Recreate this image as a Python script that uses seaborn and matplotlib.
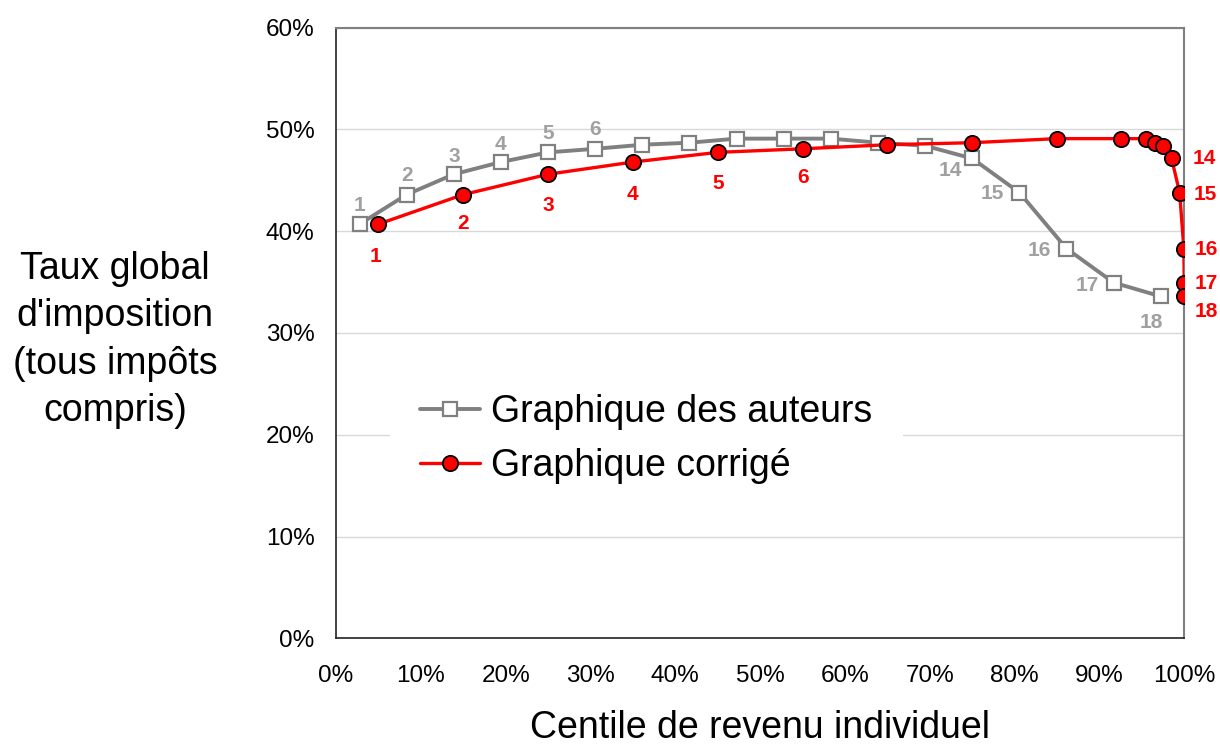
import matplotlib
matplotlib.use("Agg")
import matplotlib.pyplot as plt
import seaborn as sns
from matplotlib.ticker import PercentFormatter

# data (18 income groups)
groupes = list(range(1, 19))
centile_auteurs = [2.78, 8.33, 13.89, 19.44, 25.0, 30.56, 36.11, 41.67, 47.22,
                   52.78, 58.33, 63.89, 69.44, 75.0, 80.56, 86.11, 91.67, 97.22]
centile_corrige = [5, 15, 25, 35, 45, 55, 65, 75, 85,
                   92.5, 95.5, 96.5, 97.5, 98.5, 99.45, 99.95, 99.995, 99.9995]
taux_global = [40.7, 43.6, 45.6, 46.8, 47.75, 48.1, 48.5, 48.7, 49.1,
               49.1, 49.1, 48.7, 48.4, 47.15, 43.8, 38.3, 34.95, 33.6]
groupes_etiquetes = [1, 2, 3, 4, 5, 6, 14, 15, 16, 17, 18]

sns.set_style("white")
plt.rcParams["font.family"] = ["Liberation Sans", "DejaVu Sans"]
plt.rcParams["text.color"] = "black"

GRIS = "#808080"
GRIS_TXT = "#a0a0a0"
ROUGE = "#ff0000"

fig = plt.figure(figsize=(12.2, 7.47), dpi=100)
ax = fig.add_axes([336 / 1220, 1 - 638.3 / 747, 848.3 / 1220, 610.6 / 747])

sns.lineplot(x=centile_auteurs, y=taux_global, ax=ax, sort=False, errorbar=None,
             color=GRIS, linewidth=2.8, marker="s", markersize=10.5,
             markerfacecolor="white", markeredgecolor=GRIS, markeredgewidth=1.6,
             label="Graphique des auteurs", zorder=3)
sns.lineplot(x=centile_corrige, y=taux_global, ax=ax, sort=False, errorbar=None,
             color=ROUGE, linewidth=2.4, marker="o", markersize=11,
             markerfacecolor=ROUGE, markeredgecolor="black", markeredgewidth=1.3,
             label="Graphique corrigé", zorder=4)

# label offsets in pixels (dx, dy)
off_gris = {1: (0, 19), 2: (0, 19), 3: (0, 18), 4: (0, 18), 5: (0, 19), 6: (0, 19),
            14: (-22, -12), 15: (-27, -1), 16: (-27, -2), 17: (-26, -3), 18: (-9, -26)}
off_rouge = {1: (-3, -32), 2: (0, -29), 3: (0, -31), 4: (0, -32), 5: (0, -31), 6: (0, -29),
             14: (33, 0), 15: (26, -2), 16: (22, -1), 17: (22, -1), 18: (22, -15)}

for g in groupes_etiquetes:
    i = groupes.index(g)
    ax.annotate(str(g), (centile_auteurs[i], taux_global[i]), xytext=off_gris[g],
                textcoords="offset pixels", ha="center", va="center",
                fontsize=15, fontweight="bold", color=GRIS_TXT, zorder=5)
    ax.annotate(str(g), (centile_corrige[i], taux_global[i]), xytext=off_rouge[g],
                textcoords="offset pixels", ha="center", va="center",
                fontsize=15, fontweight="bold", color=ROUGE, zorder=5,
                annotation_clip=False)

ax.set_xlim(0, 100)
ax.set_ylim(0, 60)
ax.set_xticks(range(0, 101, 10))
ax.set_yticks(range(0, 61, 10))
ax.xaxis.set_major_formatter(PercentFormatter(decimals=0))
ax.yaxis.set_major_formatter(PercentFormatter(decimals=0))
ax.tick_params(axis="both", direction="out", length=6.3, width=1, color="#333333",
               labelsize=17.5, labelcolor="black")
ax.tick_params(axis="x", pad=13)
ax.tick_params(axis="y", pad=9)
ax.grid(axis="y", color="#d9d9d9", linewidth=1)
ax.set_axisbelow(True)
for s in ["left", "bottom"]:
    ax.spines[s].set_color("#222222")
    ax.spines[s].set_linewidth(1.2)
for s in ["top", "right"]:
    ax.spines[s].set_color(GRIS)
    ax.spines[s].set_linewidth(1.5)
ax.set_xlabel("")
ax.set_ylabel("")

leg = ax.legend(loc="upper left", bbox_to_anchor=(0.0637, 0.449), borderaxespad=0,
                fontsize=27, frameon=True, facecolor="white", edgecolor="none",
                framealpha=1, fancybox=False, handlelength=1.6, handletextpad=0.3,
                labelspacing=0.48, borderpad=0.8)
leg.set_zorder(6)
for t in leg.get_texts():
    t.set_color("black")

fig.text(115 / 1220, 1 - 340 / 747, "Taux global\nd'imposition\n(tous impôts\ncompris)",
         ha="center", va="center", multialignment="center", fontsize=27,
         linespacing=1.4, color="black")
fig.text(760 / 1220, 1 / 747, "Centile de revenu individuel",
         ha="center", va="bottom", fontsize=27, color="black")

fig.savefig("out.png", dpi=100)
